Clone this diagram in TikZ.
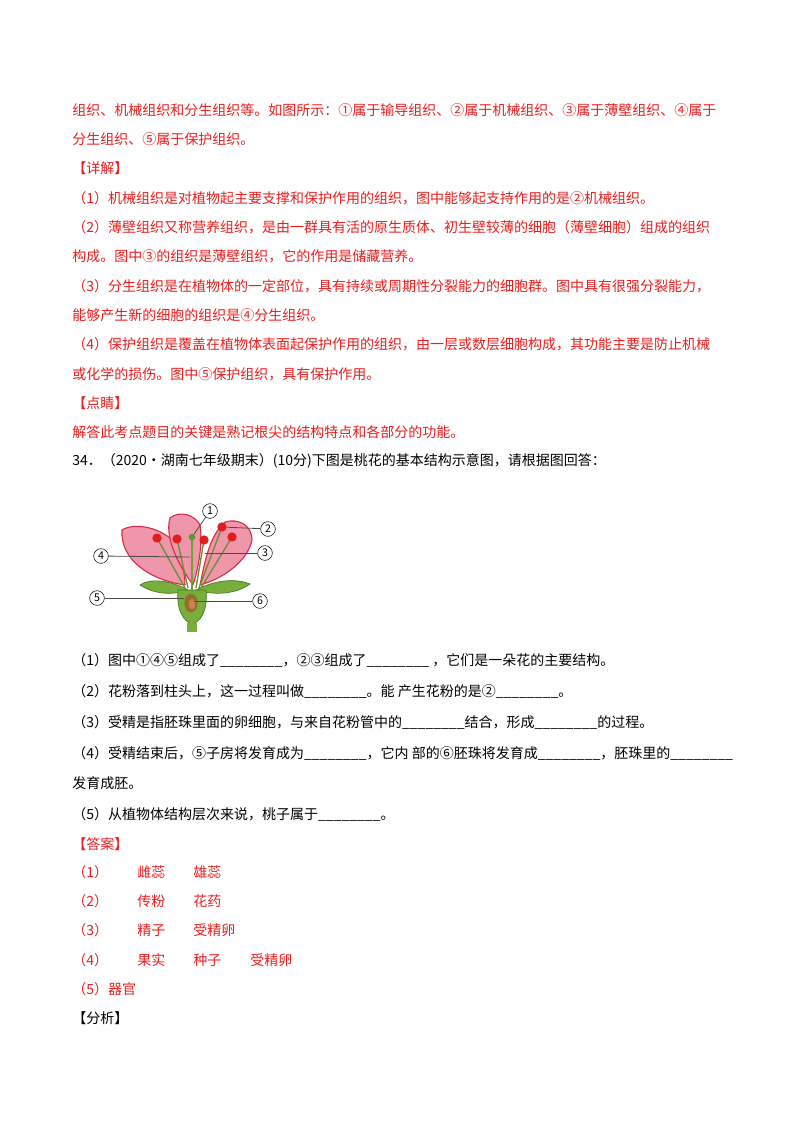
\documentclass[tikz,border=0pt]{standalone}
\usepackage{fontspec}
\setmainfont{Noto Sans CJK SC}
\begin{document}
\begin{tikzpicture}[x=0.75pt,y=-0.75pt,
    line/.style={anchor=west, inner sep=0pt, font=\fontsize{10.5}{12}\selectfont},
    redline/.style={line, text={rgb,255:red,235;green,30;blue,30}},
    petal/.style={fill={rgb,255:red,240;green,150;blue,170}, draw={rgb,255:red,215;green,40;blue,70}, line width=0.8pt},
    sepal/.style={fill={rgb,255:red,120;green,175;blue,60}, draw={rgb,255:red,70;green,120;blue,30}, line width=0.5pt},
    stamen/.style={draw={rgb,255:red,110;green,140;blue,50}, line width=1pt},
    anther/.style={circle, fill={rgb,255:red,225;green,30;blue,30}, inner sep=0pt, minimum size=7pt},
    pointer/.style={draw=black!70, line width=0.6pt},
    numlabel/.style={circle, draw, inner sep=0pt, minimum size=11pt, font=\fontsize{8}{9}\selectfont}
  ]
\useasboundingbox (0,0) rectangle (800,1132);
\fill[white] (0,0) rectangle (800,1132);
% text of the previous question
\node[redline] (t1) at (72,110) {组织、机械组织和分生组织等。如图所示：①属于输导组织、②属于机械组织、③属于薄壁组织、④属于};
\node[redline] (t2) at (72,139) {分生组织、⑤属于保护组织。};
\node[redline] (t3) at (72,168) {【详解】};
\node[redline] (t4) at (72,198) {（1）机械组织是对植物起主要支撑和保护作用的组织，图中能够起支持作用的是②机械组织。};
\node[redline] (t5) at (72,227) {（2）薄壁组织又称营养组织，是由一群具有活的原生质体、初生壁较薄的细胞（薄壁细胞）组成的组织};
\node[redline] (t6) at (72,256) {构成。图中③的组织是薄壁组织，它的作用是储藏营养。};
\node[redline] (t7) at (72,286) {（3）分生组织是在植物体的一定部位，具有持续或周期性分裂能力的细胞群。图中具有很强分裂能力，};
\node[redline] (t8) at (72,315) {能够产生新的细胞的组织是④分生组织。};
\node[redline] (t9) at (72,344) {（4）保护组织是覆盖在植物体表面起保护作用的组织，由一层或数层细胞构成，其功能主要是防止机械};
\node[redline] (t10) at (72,374) {或化学的损伤。图中⑤保护组织，具有保护作用。};
\node[redline] (t11) at (72,403) {【点睛】};
\node[redline] (t12) at (72,432) {解答此考点题目的关键是熟记根尖的结构特点和各部分的功能。};
\node[line] (q0) at (72,461) {34．（2020·湖南七年级期末）(10分)下图是桃花的基本结构示意图，请根据图回答：};
% flower
\path[petal] (185,585) .. controls (150,580) and (120,560) .. (122,530) .. controls (135,522) and (160,528) .. (172,540) .. controls (180,555) and (185,570) .. (185,585);
\path[petal] (193,585) .. controls (175,560) and (165,535) .. (170,518) .. controls (180,510) and (195,515) .. (200,525) .. controls (203,545) and (198,570) .. (193,585);
\path[petal] (200,585) .. controls (205,560) and (210,535) .. (225,522) .. controls (238,518) and (252,525) .. (252,540) .. controls (248,560) and (225,578) .. (200,585);
\path[sepal] (188,590) .. controls (170,580) and (150,578) .. (140,585) .. controls (155,595) and (175,595) .. (188,590);
\path[sepal] (196,590) .. controls (215,580) and (235,578) .. (250,584) .. controls (235,595) and (212,595) .. (196,590);
\path[sepal] (178,590) .. controls (176,612) and (185,622) .. (192,624) .. controls (200,622) and (208,612) .. (206,590) -- cycle;
\fill[fill={rgb,255:red,150;green,110;blue,40}] (191,603) ellipse (5pt and 7pt);
\fill[fill={rgb,255:red,200;green,130;blue,90}] (192,604) ellipse (2.5pt and 4pt);
\fill[fill={rgb,255:red,120;green,175;blue,60}] (187,623) rectangle (197,632);
\draw[stamen] (185,588) -- (157,538);
\draw[stamen] (188,588) -- (177,539);
\draw[stamen] (196,588) -- (204,540);
\draw[stamen] (199,588) -- (222,527);
\draw[stamen] (201,588) -- (232,537);
\draw[draw={rgb,255:red,110;green,160;blue,60}, line width=2pt] (192,595) -- (192,540);
\node[anther] (a1) at (157,538) {};
\node[anther] (a2) at (177,539) {};
\node[anther] (a3) at (204,540) {};
\node[anther] (a4) at (222,527) {};
\node[anther] (a5) at (232,537) {};
\node[circle, fill={rgb,255:red,90;green,150;blue,60}, inner sep=0pt, minimum size=5pt] (stigma) at (192,537) {};
% labels
\node[numlabel] (m1) at (210,511) {1};
\node[numlabel] (m2) at (268,529) {2};
\node[numlabel] (m3) at (265,553) {3};
\node[numlabel] (m4) at (101,556) {4};
\node[numlabel] (m5) at (97,598) {5};
\node[numlabel] (m6) at (260,601) {6};
\draw[pointer] (stigma) -- (m1);
\draw[pointer] (a4) -- (m2);
\coordinate (c3) at (205,553);
\draw[pointer] (c3) -- (m3);
\coordinate (c4) at (190,557);
\draw[pointer] (m4) -- (c4);
\coordinate (c5) at (184,598);
\draw[pointer] (m5) -- (c5);
\coordinate (c6) at (194,601);
\draw[pointer] (c6) -- (m6);
% questions
\node[line] (q1) at (72,660) {（1）图中①④⑤组成了\_\_\_\_\_\_\_\_，②③组成了\_\_\_\_\_\_\_\_ ，它们是一朵花的主要结构。};
\node[line] (q2) at (72,691) {（2）花粉落到柱头上，这一过程叫做\_\_\_\_\_\_\_\_。能 产生花粉的是②\_\_\_\_\_\_\_\_。};
\node[line] (q3) at (72,722) {（3）受精是指胚珠里面的卵细胞，与来自花粉管中的\_\_\_\_\_\_\_\_结合，形成\_\_\_\_\_\_\_\_的过程。};
\node[line] (q4) at (72,753) {（4）受精结束后，⑤子房将发育成为\_\_\_\_\_\_\_\_，它内 部的⑥胚珠将发育成\_\_\_\_\_\_\_\_，胚珠里的\_\_\_\_\_\_\_\_};
\node[line] (q4b) at (72,783) {发育成胚。};
\node[line] (q5) at (72,814) {（5）从植物体结构层次来说，桃子属于\_\_\_\_\_\_\_\_。};
% answers
\node[redline] (ans) at (72,844) {【答案】};
\foreach \y/\n in {872/1,901/2,930/3,960/4} \node[redline] at (72,\y) {（\n）};
\node[redline] (a11) at (137,872) {雌蕊};
\node[redline] (a12) at (193,872) {雄蕊};
\node[redline] (a21) at (137,901) {传粉};
\node[redline] (a22) at (193,901) {花药};
\node[redline] (a31) at (137,930) {精子};
\node[redline] (a32) at (193,930) {受精卵};
\node[redline] (a41) at (137,960) {果实};
\node[redline] (a42) at (193,960) {种子};
\node[redline] (a43) at (250,960) {受精卵};
\node[redline] (a5) at (72,989) {（5）器官};
\node[line] (fx) at (72,1018) {【分析】};
\end{tikzpicture}
\end{document}
